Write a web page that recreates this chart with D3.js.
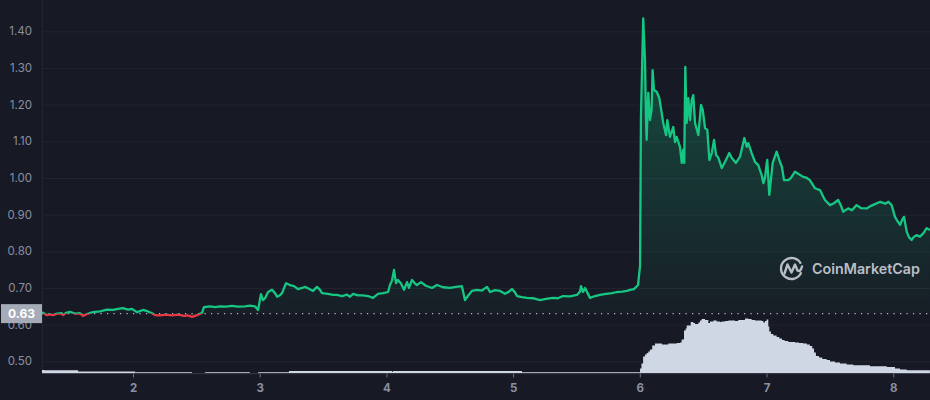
<!DOCTYPE html>
<html>
<head>
<meta charset="utf-8">
<script src="https://cdn.jsdelivr.net/npm/d3@7"></script>
<style>
  html, body { margin: 0; padding: 0; background: #171924; }
  svg { display: block; }
  text { font-family: Inter, "Noto Sans", sans-serif; }
</style>
</head>
<body>
<svg id="chart" width="930" height="400"></svg>
<script>
// ---- data ----
const priceDays = [1.282,1.319,1.345,1.369,1.400,1.437,1.448,1.471,1.503,1.542,1.582,1.605,1.637,1.684,1.740,1.795,1.842,1.882,1.921,1.961,1.992,2.032,2.079,2.118,2.150,2.174,2.213,2.260,2.308,2.355,2.403,2.434,2.466,2.505,2.545,2.560,2.608,2.647,2.687,2.734,2.781,2.829,2.884,2.923,2.963,2.987,3.010,3.026,3.042,3.066,3.097,3.121,3.137,3.160,3.176,3.208,3.239,3.271,3.302,3.334,3.358,3.389,3.421,3.452,3.476,3.492,3.539,3.579,3.610,3.650,3.689,3.713,3.737,3.776,3.815,3.855,3.894,3.934,3.973,4.013,4.028,4.044,4.060,4.076,4.091,4.115,4.139,4.163,4.178,4.202,4.226,4.241,4.273,4.312,4.360,4.399,4.447,4.502,4.549,4.596,4.620,4.643,4.675,4.715,4.754,4.794,4.818,4.857,4.897,4.936,4.968,4.991,5.015,5.031,5.070,5.110,5.157,5.212,5.260,5.315,5.354,5.394,5.449,5.504,5.528,5.536,5.552,5.568,5.607,5.647,5.686,5.733,5.781,5.820,5.860,5.899,5.923,5.954,5.986,6.002,6.009,6.027,6.041,6.049,6.054,6.067,6.080,6.093,6.101,6.112,6.133,6.154,6.173,6.185,6.207,6.217,6.238,6.264,6.278,6.291,6.317,6.331,6.343,6.351,6.359,6.370,6.383,6.396,6.410,6.422,6.436,6.462,6.483,6.497,6.515,6.533,6.549,6.568,6.586,6.602,6.620,6.647,6.673,6.706,6.725,6.759,6.791,6.825,6.844,6.856,6.883,6.909,6.935,6.962,6.975,6.988,7.002,7.006,7.022,7.049,7.080,7.101,7.122,7.138,7.172,7.193,7.225,7.256,7.290,7.319,7.342,7.382,7.422,7.461,7.501,7.532,7.566,7.587,7.605,7.645,7.674,7.711,7.745,7.791,7.825,7.864,7.898,7.937,7.962,7.988,8.014,8.038,8.054,8.070,8.085,8.107,8.125,8.146,8.164,8.185,8.211,8.237,8.264,8.290];
const priceValues = [0.634,0.626,0.628,0.626,0.630,0.631,0.626,0.632,0.635,0.630,0.631,0.624,0.629,0.634,0.636,0.641,0.640,0.643,0.645,0.641,0.643,0.634,0.640,0.636,0.631,0.626,0.625,0.627,0.625,0.627,0.624,0.625,0.621,0.626,0.632,0.648,0.650,0.648,0.650,0.649,0.651,0.649,0.650,0.652,0.650,0.640,0.683,0.667,0.672,0.689,0.695,0.686,0.676,0.680,0.686,0.713,0.708,0.705,0.697,0.700,0.703,0.698,0.692,0.703,0.695,0.686,0.684,0.681,0.681,0.678,0.682,0.676,0.684,0.680,0.680,0.678,0.673,0.684,0.686,0.689,0.708,0.720,0.749,0.713,0.722,0.712,0.695,0.716,0.700,0.722,0.712,0.708,0.716,0.706,0.700,0.708,0.702,0.700,0.703,0.705,0.667,0.678,0.692,0.695,0.693,0.703,0.689,0.694,0.692,0.684,0.690,0.697,0.688,0.678,0.675,0.673,0.672,0.667,0.670,0.673,0.672,0.678,0.677,0.681,0.690,0.705,0.689,0.700,0.673,0.678,0.681,0.684,0.686,0.689,0.690,0.692,0.695,0.697,0.708,0.760,1.167,1.435,1.322,1.158,1.104,1.232,1.158,1.185,1.294,1.240,1.235,1.218,1.177,1.150,1.117,1.158,1.112,1.139,1.098,1.112,1.085,1.041,1.077,1.041,1.303,1.150,1.218,1.158,1.213,1.226,1.150,1.117,1.199,1.185,1.136,1.131,1.049,1.068,1.104,1.063,1.055,1.027,1.044,1.068,1.055,1.041,1.058,1.109,1.085,1.095,1.068,1.044,1.035,1.008,0.986,1.000,1.041,1.049,0.954,1.041,1.072,1.049,1.030,0.994,0.994,1.000,1.017,1.010,1.003,1.000,0.994,0.972,0.967,0.940,0.926,0.931,0.940,0.925,0.908,0.917,0.912,0.926,0.918,0.917,0.924,0.930,0.935,0.930,0.935,0.926,0.894,0.880,0.872,0.885,0.894,0.853,0.838,0.831,0.840,0.844,0.840,0.849,0.863,0.858];

const volumeDays = [1.282,1.300,1.567,2.016,2.466,2.569,2.923,2.987,3.231,4.044,4.052,5.070,6.002,6.013,6.026,6.041,6.054,6.067,6.080,6.098,6.120,6.159,6.175,6.212,6.225,6.291,6.317,6.330,6.349,6.362,6.370,6.402,6.422,6.436,6.462,6.475,6.488,6.515,6.541,6.554,6.580,6.607,6.633,6.646,6.673,6.699,6.725,6.751,6.777,6.804,6.830,6.856,6.883,6.909,6.935,6.962,6.975,6.988,7.001,7.014,7.022,7.035,7.054,7.080,7.101,7.122,7.143,7.172,7.225,7.256,7.290,7.319,7.342,7.361,7.375,7.390,7.414,7.440,7.475,7.501,7.540,7.580,7.632,7.685,7.817,7.949,8.014,8.054,8.107,8.290];
const volumeValues = [3.5,3.2,2.0,1.2,0.5,1.2,0.5,1.2,2.4,1.8,2.4,1.3,5,10,17,19,20.5,22,24,28,30,30,29,29,30,30.5,31,34,43,45,48,51.5,50.5,49.5,51,53,54.5,53.5,50.5,52,53,52,51.5,52,52.5,53,53,52.5,53.5,53.5,55,54.5,53.5,53,53,52.5,51,52.5,54,47,42,39.5,38,36.5,35,33.5,32.5,31.5,31,30.5,30,29,27.5,25,21,17.5,16,14.5,13.5,12,11,10,9,8.3,7.3,6.6,5,4,3.3,3.3];

const yTickValues = [0.50,0.60,0.70,0.80,0.90,1.00,1.10,1.20,1.30,1.40];
const xTickValues = [2,3,4,5,6,7,8];
const baselinePrice = 0.63;
const baselineLabel = "0.63";
const watermarkText = "CoinMarketCap";

// ---- layout ----
const W = 930, H = 400;
const left = 42, right = 930, bottom = 373.5;
const GREEN = "#16c784", RED = "#ea3943";

const svg = d3.select("#chart");
svg.append("rect").attr("width", W).attr("height", H).attr("fill", "#171924");

const x = d3.scaleLinear().domain([2, 8]).range([133, 893.2]);
const y = d3.scaleLinear().domain([0.50, 1.40]).range([361.3, 31.3]);
const vy = d3.scaleLinear().domain([0, 100]).range([bottom, bottom - 100]);

const price = priceDays.map((d, i) => ({ day: d, v: priceValues[i] }));
const volume = volumeDays.map((d, i) => ({ day: d, v: volumeValues[i] }));

const defs = svg.append("defs");
const yb = y(baselinePrice);
defs.append("clipPath").attr("id", "clipAbove")
  .append("rect").attr("x", left).attr("y", 0).attr("width", right - left).attr("height", yb);
defs.append("clipPath").attr("id", "clipBelow")
  .append("rect").attr("x", left).attr("y", yb).attr("width", right - left).attr("height", bottom - yb);
defs.append("clipPath").attr("id", "clipPlot")
  .append("rect").attr("x", left).attr("y", 0).attr("width", right - left).attr("height", bottom);

const gGreen = defs.append("linearGradient").attr("id", "gradGreen")
  .attr("gradientUnits", "userSpaceOnUse").attr("x1", 0).attr("x2", 0)
  .attr("y1", y(d3.max(priceValues))).attr("y2", yb);
gGreen.append("stop").attr("offset", "0%").attr("stop-color", GREEN).attr("stop-opacity", 0.32);
gGreen.append("stop").attr("offset", "100%").attr("stop-color", GREEN).attr("stop-opacity", 0.03);
const gRed = defs.append("linearGradient").attr("id", "gradRed")
  .attr("gradientUnits", "userSpaceOnUse").attr("x1", 0).attr("x2", 0)
  .attr("y1", yb).attr("y2", y(d3.min(priceValues)));
gRed.append("stop").attr("offset", "0%").attr("stop-color", RED).attr("stop-opacity", 0.03);
gRed.append("stop").attr("offset", "100%").attr("stop-color", RED).attr("stop-opacity", 0.2);

// ---- grid & y axis ----
const yAxis = d3.axisLeft(y).tickValues(yTickValues).tickFormat(d3.format(".2f"))
  .tickSizeInner(-(right - left)).tickSizeOuter(0).tickPadding(10);
const gy = svg.append("g").attr("transform", `translate(${left},0)`).call(yAxis);
gy.select(".domain").remove();
gy.selectAll(".tick line").attr("stroke", "#222531").attr("stroke-width", 1);
gy.selectAll(".tick text").attr("fill", "#8a90a2").attr("font-size", 11.5)
  .attr("font-family", "Inter, 'Noto Sans', sans-serif");

svg.append("line").attr("x1", left + 0.5).attr("x2", left + 0.5).attr("y1", 0).attr("y2", bottom)
  .attr("stroke", "#222531");

// ---- volume ----
svg.append("path").datum(volume)
  .attr("clip-path", "url(#clipPlot)")
  .attr("fill", "#cfd6e4")
  .attr("d", d3.area().curve(d3.curveStepAfter).x(d => x(d.day)).y0(bottom).y1(d => vy(d.v)));

// ---- price area ----
const area = d3.area().x(d => x(d.day)).y0(yb).y1(d => y(d.v));
svg.append("path").datum(price).attr("clip-path", "url(#clipAbove)")
  .attr("fill", "url(#gradGreen)").attr("d", area);
svg.append("path").datum(price).attr("clip-path", "url(#clipBelow)")
  .attr("fill", "url(#gradRed)").attr("d", area);

// ---- baseline dotted ----
svg.append("line").attr("x1", left).attr("x2", right).attr("y1", yb).attr("y2", yb)
  .attr("stroke", "#b8bdc9").attr("stroke-width", 1.2).attr("stroke-dasharray", "1.2 5.3");

// ---- price line ----
const line = d3.line().x(d => x(d.day)).y(d => y(d.v));
svg.append("path").datum(price).attr("clip-path", "url(#clipAbove)")
  .attr("fill", "none").attr("stroke", GREEN).attr("stroke-width", 2.3)
  .attr("stroke-linejoin", "round").attr("d", line);
svg.append("path").datum(price).attr("clip-path", "url(#clipBelow)")
  .attr("fill", "none").attr("stroke", RED).attr("stroke-width", 2.3)
  .attr("stroke-linejoin", "round").attr("d", line);

// ---- x axis ----
const xAxis = d3.axisBottom(x).tickValues(xTickValues).tickFormat(d3.format("d"))
  .tickSizeInner(4).tickSizeOuter(0).tickPadding(6);
const gx = svg.append("g").attr("transform", `translate(0,${bottom})`).call(xAxis);
gx.select(".domain").attr("stroke", "#222531");
gx.selectAll(".tick line").attr("stroke", "#6b7186");
gx.selectAll(".tick text").attr("fill", "#8a90a2").attr("font-size", 11.5).attr("font-weight", 700)
  .attr("font-family", "Inter, 'Noto Sans', sans-serif");

// ---- baseline label ----
svg.append("rect").attr("x", 1).attr("y", yb - 9.5).attr("width", left - 1).attr("height", 19)
  .attr("fill", "#a6abb8");
svg.append("text").attr("x", (left + 1) / 2).attr("y", yb).attr("dy", "0.35em")
  .attr("text-anchor", "middle").attr("fill", "#ffffff").attr("font-size", 12).attr("font-weight", 700)
  .text(baselineLabel);

// ---- watermark ----
const wm = svg.append("g").attr("opacity", 0.85);
const cx = 791.5, cy = 268.5, r = 10.5;
wm.append("path")
  .attr("d", d3.arc()({ innerRadius: r, outerRadius: r, startAngle: Math.PI * 0.62, endAngle: Math.PI * 2.35 }))
  .attr("transform", `translate(${cx},${cy})`)
  .attr("fill", "none").attr("stroke", "#d6d9e0").attr("stroke-width", 2.4);
wm.append("path")
  .attr("d", `M${cx-7},${cy+5} L${cx-4},${cy-4} L${cx},${cy+4} L${cx+3.5},${cy-4} L${cx+6},${cy+2} Q${cx+9},${cy+4} ${cx+10.5},${cy-2}`)
  .attr("fill", "none").attr("stroke", "#d6d9e0").attr("stroke-width", 2.4)
  .attr("stroke-linejoin", "round").attr("stroke-linecap", "round");
wm.append("text").attr("x", 812).attr("y", 268.5).attr("dy", "0.36em")
  .attr("fill", "#d6d9e0").attr("font-size", 14.5).attr("font-weight", 600)
  .attr("textLength", 108).attr("lengthAdjust", "spacingAndGlyphs")
  .text(watermarkText);
</script>
</body>
</html>
